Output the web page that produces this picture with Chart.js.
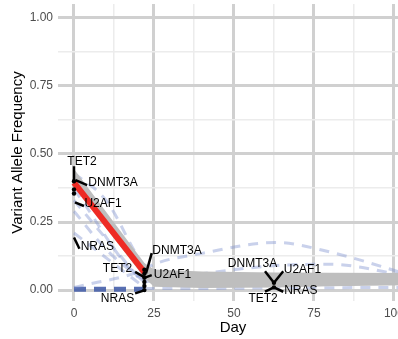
<!DOCTYPE html>
<html lang="en">
<head>
<meta charset="UTF-8" />
<title>Variant Allele Frequency</title>
<script src="https://cdn.jsdelivr.net/npm/chart.js"></script>
<style>
  html, body { margin: 0; padding: 0; background: #fff; overflow: hidden; }
  canvas { display: block; width: 420px; height: 339px; }
</style>
</head>
<body>
<canvas id="vafChart" width="420" height="339"></canvas>
<script>
// sampling days shared by all series (null = no value on that day)
const days = [0, 10, 22, 25, 40, 63, 80, 105];

// summary band + median
const bandUpper = [0.445, null, 0.1, 0.076, 0.068, 0.065, 0.064, 0.063];
const bandLower = [0.382, null, 0.045, 0.012, 0.008, 0.01, 0.014, 0.018];
const medianVaf = [0.395, null, 0.065, null, null, null, null, null];

// individual trajectories (faint dashed)
const traj1 = [0.01, null, 0.075, 0.095, 0.135, 0.175, 0.14, 0.055];
const traj2 = [null, null, 0.03, 0.035, 0.06, 0.09, 0.095, 0.05];
const traj3 = [0.43, 0.33, 0.09, 0.07, 0.05, 0.045, 0.05, 0.06];
const traj4 = [0.37, null, 0.04, 0.035, 0.03, 0.03, 0.035, 0.04];
const traj5 = [0.33, null, 0.02, null, null, null, null, null];
const traj6 = [0.29, 0.15, 0.03, null, null, null, null, null];
const traj7 = [0.21, null, 0.01, null, null, null, null, null];
const traj8 = [null, null, 0.006, null, 0.006, 0.008, null, 0.01];
const trajZero = [0.003, null, 0.003, null, null, null, null, null];

// observed points
const pointDay = [0, 0, 0, 22, 22, 22, 22, 22, 22, 62.5, 62.5];
const pointVaf = [0.40, 0.37, 0.355, 0.075, 0.06, 0.045, 0.03, 0.015, 0.0, 0.027, 0.01];

// gene labels and their leader segments
const labelText = ['TET2', 'DNMT3A', 'U2AF1', 'NRAS', 'DNMT3A', 'TET2', 'U2AF1', 'NRAS', 'DNMT3A', 'U2AF1', 'TET2', 'NRAS'];
const labelDay = [2.5, 12.2, 9.1, 7.3, 32.2, 13.6, 30.8, 13.6, 55.8, 71.4, 59.1, 70.9];
const labelVaf = [0.473, 0.393, 0.316, 0.16, 0.145, 0.08, 0.058, -0.033, 0.096, 0.075, -0.031, -0.002];
const segFromDay = [0, 0.5, 0.3, 0, 22.5, 22.2, 22.2, 22.2, 62.5, 62.5, 62.5, 62.5];
const segFromVaf = [0.40, 0.404, 0.322, 0.193, 0.061, 0.046, 0.046, 0.0, 0.027, 0.027, 0.01, 0.01];
const segToDay = [0, 4.1, 3.1, 1.7, 24.3, 19.1, 24.3, 19.1, 59.7, 65.4, 59.7, 65.4];
const segToVaf = [0.455, 0.386, 0.309, 0.152, 0.136, 0.067, 0.055, -0.012, 0.069, 0.069, -0.006, -0.006];

const xMajor = [0, 25, 50, 75, 100];
const xMinor = [12.5, 37.5, 62.5, 87.5];
const yMajor = [0, 0.25, 0.5, 0.75, 1];
const yMinor = [0.125, 0.375, 0.625, 0.875];

const FONT = '"Liberation Sans", Arial, sans-serif';
const MAJOR_GRID = 'rgb(208,208,208)';
const MINOR_GRID = 'rgb(236,236,236)';

function pts(vals) {
  return days.map((d, i) => ({ x: d, y: vals[i] }));
}

function dashed(vals, dark) {
  return {
    data: pts(vals),
    borderColor: dark ? 'rgba(70,95,170,0.9)' : 'rgba(120,140,205,0.4)',
    borderWidth: dark ? 5 : 3,
    borderDash: dark ? [12, 8] : [10, 8],
    pointRadius: 0,
    spanGaps: true,
    cubicInterpolationMode: 'monotone',
    fill: false,
    order: 3
  };
}

const segments = labelText.map((t, i) => ({
  data: [{ x: segFromDay[i], y: segFromVaf[i] }, { x: segToDay[i], y: segToVaf[i] }],
  borderColor: '#000',
  borderWidth: 2.5,
  pointRadius: 0,
  fill: false,
  order: 0
}));

const geneLabels = {
  id: 'geneLabels',
  afterDatasetsDraw(chart) {
    const { ctx, scales: { x, y } } = chart;
    ctx.save();
    ctx.font = '12px ' + FONT;
    ctx.fillStyle = '#000';
    ctx.textAlign = 'center';
    ctx.textBaseline = 'middle';
    labelText.forEach((t, i) => {
      ctx.fillText(t, x.getPixelForValue(labelDay[i]), y.getPixelForValue(labelVaf[i]));
    });
    ctx.restore();
  }
};

new Chart(document.getElementById('vafChart'), {
  type: 'line',
  data: {
    datasets: [
      { data: pts(bandUpper), borderWidth: 0, pointRadius: 0, spanGaps: true, fill: false, order: 2 },
      { data: pts(bandLower), borderWidth: 0, pointRadius: 0, spanGaps: true, fill: '-1',
        backgroundColor: 'rgb(190,190,190)', order: 2 },
      dashed(traj1), dashed(traj2), dashed(traj3), dashed(traj4),
      dashed(traj5), dashed(traj6), dashed(traj7), dashed(traj8),
      dashed(trajZero, true),
      { data: pts(medianVaf), borderColor: '#ee2b24', borderWidth: 6, pointRadius: 0,
        spanGaps: true, fill: false, order: 1 },
      { type: 'scatter', data: pointDay.map((d, i) => ({ x: d, y: pointVaf[i] })),
        backgroundColor: '#000', borderWidth: 0, pointRadius: 2.2, order: 0 },
      ...segments
    ]
  },
  options: {
    responsive: false,
    animation: false,
    events: [],
    layout: { padding: { top: 1, right: 12, left: 0, bottom: 0 } },
    plugins: { legend: { display: false }, tooltip: { enabled: false } },
    scales: {
      x: {
        type: 'linear',
        min: -5,
        max: 104.4,
        afterBuildTicks: s => { s.ticks = xMajor.concat(xMinor).sort((a, b) => a - b).map(v => ({ value: v })); },
        afterFit: s => { s.height = 38; s.paddingLeft = 0; s.paddingRight = 0; },
        grid: {
          drawTicks: false,
          color: c => xMajor.includes(c.tick.value) ? MAJOR_GRID : MINOR_GRID,
          lineWidth: c => xMajor.includes(c.tick.value) ? 3 : 1.5
        },
        border: { display: false },
        ticks: {
          autoSkip: false,
          maxRotation: 0,
          padding: 5,
          color: '#4d4d4d',
          font: { family: FONT, size: 12 },
          callback: v => xMajor.includes(v) ? String(v) : ''
        },
        title: { display: true, text: 'Day', color: '#000', font: { family: FONT, size: 15 },
          padding: { top: 0, bottom: 2 } }
      },
      y: {
        type: 'linear',
        min: -0.04,
        max: 1.051,
        afterBuildTicks: s => { s.ticks = yMajor.concat(yMinor).sort((a, b) => a - b).map(v => ({ value: v })); },
        afterFit: s => { s.width = 58; s.paddingTop = 0; s.paddingBottom = 0; },
        grid: {
          drawTicks: false,
          color: c => yMajor.includes(c.tick.value) ? MAJOR_GRID : MINOR_GRID,
          lineWidth: c => yMajor.includes(c.tick.value) ? 3 : 1.5
        },
        border: { display: false },
        ticks: {
          autoSkip: false,
          padding: 5,
          color: '#4d4d4d',
          font: { family: FONT, size: 12 },
          callback: v => yMajor.includes(v) ? v.toFixed(2) : ''
        },
        title: { display: true, text: 'Variant Allele Frequency', color: '#000',
          font: { family: FONT, size: 15 }, padding: { top: 9, bottom: 0 } }
      }
    }
  },
  plugins: [geneLabels]
});
</script>
</body>
</html>
